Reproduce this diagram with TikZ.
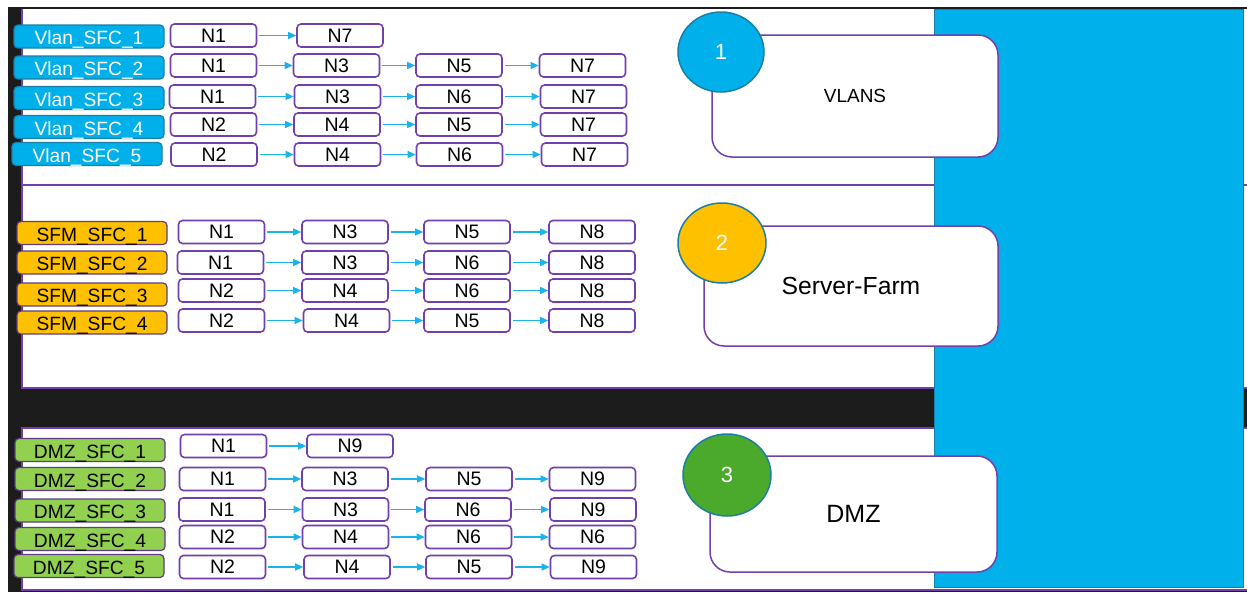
\documentclass[tikz,border=0pt]{standalone}
\usepackage{fontspec}
\setmainfont{Liberation Sans}
\usetikzlibrary{shapes.geometric,arrows.meta}
\definecolor{frame}{HTML}{1C1C1C}
\definecolor{edge}{HTML}{7140AC}
\definecolor{tagedge}{HTML}{5E3C86}
\definecolor{sky}{HTML}{00B0EA}
\definecolor{skyedge}{HTML}{1A7FA6}
\definecolor{amber}{HTML}{FFC000}
\definecolor{lime}{HTML}{92D050}
\definecolor{leaf}{HTML}{4BAA2B}
\definecolor{link}{HTML}{1CB2EA}

\tikzset{
  hop/.style={draw=edge,fill=white,line width=1.6pt,rounded corners=4pt,
    minimum width=86pt,minimum height=23pt,inner sep=0pt,
    font=\fontsize{19.5}{21}\selectfont},
  tag/.style={rounded corners=4pt,minimum width=150pt,minimum height=23pt,
    inner sep=0pt,line width=1.2pt,font=\fontsize{19.2}{21}\selectfont,
    text height=16pt,text depth=0pt},
  vtag/.style={tag,fill=sky,draw=skyedge,text=white},
  stag/.style={tag,fill=amber,draw=tagedge},
  dtag/.style={tag,fill=lime,draw=tagedge},
  flow/.style={draw=link,line width=1.2pt,-{Triangle[length=8pt,width=7pt]},
    shorten <=2pt},
  zone/.style={draw=edge,fill=white,line width=1.5pt,rounded corners=20pt,
    inner sep=0pt},
  badge/.style={ellipse,draw=skyedge,line width=1.5pt,inner sep=0pt,
    text=white,font=\fontsize{22}{24}\selectfont},
  paneline/.style={draw=edge,line width=1.2pt},
}

\begin{document}
\begin{tikzpicture}[x=1pt,y=-1pt]
\useasboundingbox (0,0) rectangle (1247,592);
\fill[white] (0,0) rectangle (1247,592);
% dark frame and the three white panels on it
\fill[frame] (8,7) rectangle (1247,592);
\fill[white] (22,9) rectangle (1247,388);
\fill[white] (22,428) rectangle (1247,590);
\draw[paneline] (22,9) -- (22,388) -- (1247,388);
\draw[paneline] (22,185) -- (1247,185);
\draw[paneline] (1247,428) -- (22,428) -- (22,590) -- (1247,590);

% blue column on the right
\draw[fill=sky,draw=skyedge,line width=1pt] (934,9) rectangle (1243,587);

% ---------- VLANS ----------
\node[zone,minimum width=286pt,minimum height=122pt,font=\fontsize{19}{21}\selectfont] (zv) at (855,96) {VLANS};
\node[badge,fill=sky,minimum width=86pt,minimum height=80pt] (bv) at (721,52) {1};

\node[vtag] (v1) at (89,36.5) {Vlan\_SFC\_1};
\node[vtag] (v2) at (89,67.5) {Vlan\_SFC\_2};
\node[vtag] (v3) at (89,98) {Vlan\_SFC\_3};
\node[vtag] (v4) at (89,127) {Vlan\_SFC\_4};
\node[vtag] (v5) at (87,154) {Vlan\_SFC\_5};

\node[hop] (v1a) at (213.5,35.5) {N1};
\node[hop] (v1b) at (340,35.5) {N7};

\node[hop] (v2a) at (213.5,65.5) {N1};
\node[hop] (v2b) at (336.5,65.5) {N3};
\node[hop] (v2c) at (459,65.5) {N5};
\node[hop] (v2d) at (582.5,65.5) {N7};

\node[hop] (v3a) at (212.5,96.5) {N1};
\node[hop] (v3b) at (337.5,96.5) {N3};
\node[hop] (v3c) at (459,96.5) {N6};
\node[hop] (v3d) at (583.5,96.5) {N7};

\node[hop] (v4a) at (213.5,124.5) {N2};
\node[hop] (v4b) at (337,124.5) {N4};
\node[hop] (v4c) at (459,124.5) {N5};
\node[hop] (v4d) at (583.5,124.5) {N7};

\node[hop] (v5a) at (214,154.5) {N2};
\node[hop] (v5b) at (337.5,154.5) {N4};
\node[hop] (v5c) at (459.5,154.5) {N6};
\node[hop] (v5d) at (584.5,154.5) {N7};

\draw[flow] (v1a) -- (v1b);
\foreach \r in {2,3,4,5} {
  \draw[flow] (v\r a) -- (v\r b);
  \draw[flow] (v\r b) -- (v\r c);
  \draw[flow] (v\r c) -- (v\r d);
}

% ---------- Server-Farm ----------
\node[zone,minimum width=294pt,minimum height=120pt,font=\fontsize{24.7}{27}\selectfont] (zs) at (851,286) {Server-Farm};
\node[badge,fill=amber,minimum width=88pt,minimum height=80pt] (bs) at (722,243) {2};

\node[stag] (s1) at (92,233) {SFM\_SFC\_1};
\node[stag] (s2) at (92,262.5) {SFM\_SFC\_2};
\node[stag] (s3) at (92,294.5) {SFM\_SFC\_3};
\node[stag] (s4) at (92,322.5) {SFM\_SFC\_4};

\node[hop] (s1a) at (221.5,232) {N1};
\node[hop] (s1b) at (345,232) {N3};
\node[hop] (s1c) at (467,232) {N5};
\node[hop] (s1d) at (592,232) {N8};

\node[hop] (s2a) at (220.5,262.5) {N1};
\node[hop] (s2b) at (345,262.5) {N3};
\node[hop] (s2c) at (467,262.5) {N6};
\node[hop] (s2d) at (592,262.5) {N8};

\node[hop] (s3a) at (221.5,290.5) {N2};
\node[hop] (s3b) at (345,290.5) {N4};
\node[hop] (s3c) at (467,290.5) {N6};
\node[hop] (s3d) at (592,290.5) {N8};

\node[hop] (s4a) at (221.5,320.5) {N2};
\node[hop] (s4b) at (346.5,320.5) {N4};
\node[hop] (s4c) at (467,320.5) {N5};
\node[hop] (s4d) at (592,320.5) {N8};

\foreach \r in {1,2,3,4} {
  \draw[flow] (s\r a) -- (s\r b);
  \draw[flow] (s\r b) -- (s\r c);
  \draw[flow] (s\r c) -- (s\r d);
}

% ---------- DMZ ----------
\node[zone,minimum width=287pt,minimum height=116pt,font=\fontsize{25}{27}\selectfont] (zd) at (853.5,514) {DMZ};
\node[badge,fill=leaf,minimum width=88pt,minimum height=82pt] (bd) at (727,475) {3};

\node[dtag] (d1) at (90,450) {DMZ\_SFC\_1};
\node[dtag] (d2) at (90,479) {DMZ\_SFC\_2};
\node[dtag] (d3) at (90,510.5) {DMZ\_SFC\_3};
\node[dtag] (d4) at (90,539) {DMZ\_SFC\_4};
\node[dtag] (d5) at (89,566) {DMZ\_SFC\_5};

\node[hop] (d1a) at (223.5,446) {N1};
\node[hop] (d1b) at (350,446) {N9};

\node[hop] (d2a) at (222.5,479) {N1};
\node[hop] (d2b) at (345,479) {N3};
\node[hop] (d2c) at (469,479) {N5};
\node[hop] (d2d) at (592.5,479) {N9};

\node[hop] (d3a) at (222,509.5) {N1};
\node[hop] (d3b) at (345.5,509.5) {N3};
\node[hop] (d3c) at (468,509.5) {N6};
\node[hop] (d3d) at (593,509.5) {N9};

\node[hop] (d4a) at (222.5,537) {N2};
\node[hop] (d4b) at (345.5,537) {N4};
\node[hop] (d4c) at (468.5,537) {N6};
\node[hop] (d4d) at (592.5,537) {N6};

\node[hop] (d5a) at (222.5,567) {N2};
\node[hop] (d5b) at (347,567) {N4};
\node[hop] (d5c) at (469,567) {N5};
\node[hop] (d5d) at (593.5,567) {N9};

\draw[flow] (d1a) -- (d1b);
\foreach \r in {2,3,4,5} {
  \draw[flow] (d\r a) -- (d\r b);
  \draw[flow] (d\r b) -- (d\r c);
  \draw[flow] (d\r c) -- (d\r d);
}
\end{tikzpicture}
\end{document}
